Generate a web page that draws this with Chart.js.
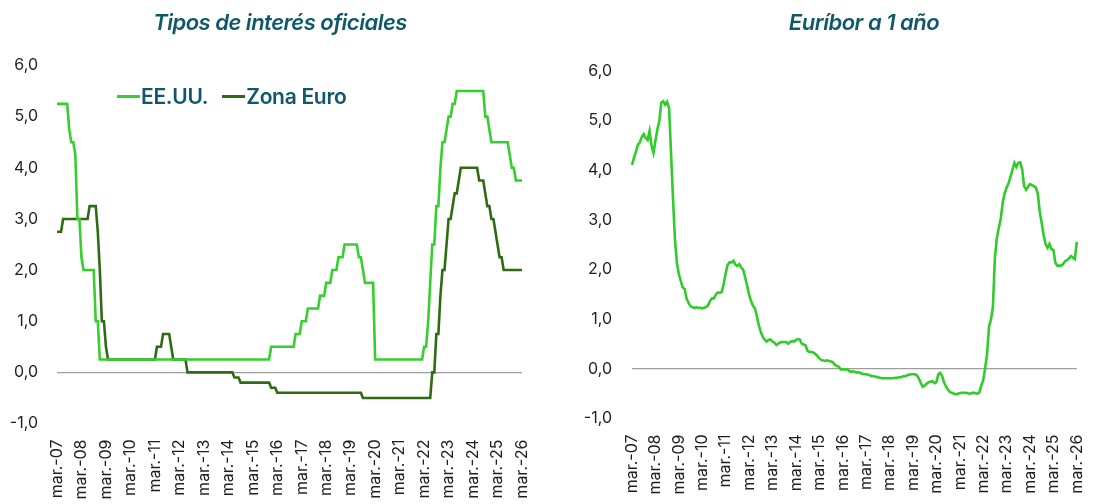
<!DOCTYPE html>
<html lang="es">
<head>
<meta charset="utf-8">
<script src="https://cdn.jsdelivr.net/npm/chart.js@4.4.1/dist/chart.umd.min.js"></script>
<style>
  body { margin: 0; width: 1104px; height: 504px; position: relative; background: #fff; overflow: hidden; font-family: Inter, "Noto Sans", sans-serif; }
  .panel { position: absolute; top: 0; height: 504px; }
  .title { position: absolute; top: 9px; transform: translateX(-50%); white-space: nowrap;
           font: italic 600 22px Inter, sans-serif; letter-spacing: -0.5px; color: #0e5868; }
  .legend { position: absolute; left: 117px; top: 84px; font: 600 21px Inter, sans-serif; color: #0e5868; white-space: nowrap; letter-spacing: -0.3px; }
  .legend .sw { display: inline-block; width: 23px; height: 3px; vertical-align: middle; margin-right: 1px; position: relative; top: -2px; }
  .legend .gap { display: inline-block; width: 14px; }
</style>
</head>
<body>
<div class="panel" style="left:0;width:560px"><canvas id="rates"></canvas></div>
<div class="panel" style="left:560px;width:544px"><canvas id="euribor"></canvas></div>
<div class="title" style="left:280px">Tipos de interés oficiales</div>
<div class="title" style="left:864px">Euríbor a 1 año</div>
<div class="legend"><span class="sw" style="background:#36cf2e"></span>EE.UU.<span class="gap"></span><span class="sw" style="background:#2f6b12"></span>Zona Euro</div>
<script>
// monthly, mar-07 .. mar-26 (one row per year, mar..feb)
const monthNames = ['mar.', 'abr.', 'may.', 'jun.', 'jul.', 'ago.', 'sep.', 'oct.', 'nov.', 'dic.', 'ene.', 'feb.'];
const yearTicks = ['mar.-07', 'mar.-08', 'mar.-09', 'mar.-10', 'mar.-11', 'mar.-12', 'mar.-13', 'mar.-14', 'mar.-15', 'mar.-16',
  'mar.-17', 'mar.-18', 'mar.-19', 'mar.-20', 'mar.-21', 'mar.-22', 'mar.-23', 'mar.-24', 'mar.-25', 'mar.-26'];

const eeuu = [
  5.25, 5.25, 5.25, 5.25, 5.25, 5.25, 4.75, 4.5, 4.5, 4.25, 3.0, 3.0,
  2.25, 2.0, 2.0, 2.0, 2.0, 2.0, 2.0, 1.0, 1.0, 0.25, 0.25, 0.25,
  0.25, 0.25, 0.25, 0.25, 0.25, 0.25, 0.25, 0.25, 0.25, 0.25, 0.25, 0.25,
  0.25, 0.25, 0.25, 0.25, 0.25, 0.25, 0.25, 0.25, 0.25, 0.25, 0.25, 0.25,
  0.25, 0.25, 0.25, 0.25, 0.25, 0.25, 0.25, 0.25, 0.25, 0.25, 0.25, 0.25,
  0.25, 0.25, 0.25, 0.25, 0.25, 0.25, 0.25, 0.25, 0.25, 0.25, 0.25, 0.25,
  0.25, 0.25, 0.25, 0.25, 0.25, 0.25, 0.25, 0.25, 0.25, 0.25, 0.25, 0.25,
  0.25, 0.25, 0.25, 0.25, 0.25, 0.25, 0.25, 0.25, 0.25, 0.25, 0.25, 0.25,
  0.25, 0.25, 0.25, 0.25, 0.25, 0.25, 0.25, 0.25, 0.25, 0.5, 0.5, 0.5,
  0.5, 0.5, 0.5, 0.5, 0.5, 0.5, 0.5, 0.5, 0.5, 0.75, 0.75, 0.75,
  1.0, 1.0, 1.0, 1.25, 1.25, 1.25, 1.25, 1.25, 1.25, 1.5, 1.5, 1.5,
  1.75, 1.75, 1.75, 2.0, 2.0, 2.0, 2.25, 2.25, 2.25, 2.5, 2.5, 2.5,
  2.5, 2.5, 2.5, 2.5, 2.25, 2.25, 2.0, 1.75, 1.75, 1.75, 1.75, 1.75,
  0.25, 0.25, 0.25, 0.25, 0.25, 0.25, 0.25, 0.25, 0.25, 0.25, 0.25, 0.25,
  0.25, 0.25, 0.25, 0.25, 0.25, 0.25, 0.25, 0.25, 0.25, 0.25, 0.25, 0.25,
  0.5, 0.5, 1.0, 1.75, 2.5, 2.5, 3.25, 3.25, 4.0, 4.5, 4.5, 4.75,
  5.0, 5.0, 5.25, 5.25, 5.5, 5.5, 5.5, 5.5, 5.5, 5.5, 5.5, 5.5,
  5.5, 5.5, 5.5, 5.5, 5.5, 5.5, 5.0, 5.0, 4.75, 4.5, 4.5, 4.5,
  4.5, 4.5, 4.5, 4.5, 4.5, 4.5, 4.25, 4.0, 4.0, 3.75, 3.75, 3.75,
  3.75
];

const zonaEuro = [
  2.75, 2.75, 2.75, 3.0, 3.0, 3.0, 3.0, 3.0, 3.0, 3.0, 3.0, 3.0,
  3.0, 3.0, 3.0, 3.0, 3.25, 3.25, 3.25, 3.25, 2.75, 2.0, 1.0, 1.0,
  0.5, 0.25, 0.25, 0.25, 0.25, 0.25, 0.25, 0.25, 0.25, 0.25, 0.25, 0.25,
  0.25, 0.25, 0.25, 0.25, 0.25, 0.25, 0.25, 0.25, 0.25, 0.25, 0.25, 0.25,
  0.25, 0.5, 0.5, 0.5, 0.75, 0.75, 0.75, 0.75, 0.5, 0.25, 0.25, 0.25,
  0.25, 0.25, 0.25, 0.25, 0, 0, 0, 0, 0, 0, 0, 0,
  0, 0, 0, 0, 0, 0, 0, 0, 0, 0, 0, 0,
  0, 0, 0, -0.1, -0.1, -0.1, -0.2, -0.2, -0.2, -0.2, -0.2, -0.2,
  -0.2, -0.2, -0.2, -0.2, -0.2, -0.2, -0.2, -0.2, -0.2, -0.3, -0.3, -0.3,
  -0.4, -0.4, -0.4, -0.4, -0.4, -0.4, -0.4, -0.4, -0.4, -0.4, -0.4, -0.4,
  -0.4, -0.4, -0.4, -0.4, -0.4, -0.4, -0.4, -0.4, -0.4, -0.4, -0.4, -0.4,
  -0.4, -0.4, -0.4, -0.4, -0.4, -0.4, -0.4, -0.4, -0.4, -0.4, -0.4, -0.4,
  -0.4, -0.4, -0.4, -0.4, -0.4, -0.4, -0.5, -0.5, -0.5, -0.5, -0.5, -0.5,
  -0.5, -0.5, -0.5, -0.5, -0.5, -0.5, -0.5, -0.5, -0.5, -0.5, -0.5, -0.5,
  -0.5, -0.5, -0.5, -0.5, -0.5, -0.5, -0.5, -0.5, -0.5, -0.5, -0.5, -0.5,
  -0.5, -0.5, -0.5, -0.5, 0, 0, 0.75, 0.75, 1.5, 2.0, 2.0, 2.5,
  3.0, 3.0, 3.25, 3.5, 3.5, 3.75, 4.0, 4.0, 4.0, 4.0, 4.0, 4.0,
  4.0, 4.0, 4.0, 3.75, 3.75, 3.75, 3.5, 3.25, 3.25, 3.0, 3.0, 2.75,
  2.5, 2.25, 2.25, 2.0, 2.0, 2.0, 2.0, 2.0, 2.0, 2.0, 2.0, 2.0,
  2.0
];

const euribor = [
  4.11, 4.25, 4.37, 4.51, 4.56, 4.67, 4.73, 4.65, 4.61, 4.79, 4.50, 4.35,
  4.59, 4.82, 4.99, 5.36, 5.39, 5.32, 5.38, 5.25, 4.35, 3.45, 2.62, 2.14,
  1.91, 1.77, 1.64, 1.61, 1.41, 1.33, 1.26, 1.24, 1.23, 1.24, 1.23, 1.23,
  1.22, 1.23, 1.25, 1.28, 1.37, 1.42, 1.42, 1.50, 1.54, 1.53, 1.55, 1.71,
  1.92, 2.09, 2.15, 2.14, 2.18, 2.10, 2.07, 2.11, 2.04, 2.00, 1.84, 1.68,
  1.50, 1.37, 1.27, 1.22, 1.06, 0.88, 0.74, 0.65, 0.59, 0.55, 0.58, 0.59,
  0.55, 0.53, 0.48, 0.51, 0.53, 0.54, 0.54, 0.54, 0.51, 0.54, 0.56, 0.55,
  0.58, 0.60, 0.59, 0.51, 0.49, 0.47, 0.36, 0.34, 0.34, 0.33, 0.30, 0.26,
  0.21, 0.18, 0.17, 0.16, 0.17, 0.16, 0.15, 0.13, 0.08, 0.06, 0.04, -0.01,
  -0.01, -0.01, -0.01, -0.03, -0.06, -0.05, -0.06, -0.07, -0.07, -0.08, -0.10, -0.11,
  -0.11, -0.12, -0.13, -0.15, -0.15, -0.16, -0.17, -0.18, -0.19, -0.19, -0.19, -0.19,
  -0.19, -0.19, -0.19, -0.18, -0.18, -0.17, -0.17, -0.15, -0.15, -0.13, -0.12, -0.11,
  -0.11, -0.11, -0.13, -0.19, -0.28, -0.36, -0.34, -0.30, -0.27, -0.26, -0.25, -0.29,
  -0.27, -0.11, -0.08, -0.15, -0.28, -0.36, -0.42, -0.47, -0.48, -0.50, -0.51, -0.50,
  -0.49, -0.48, -0.48, -0.48, -0.49, -0.50, -0.49, -0.48, -0.49, -0.50, -0.48, -0.34,
  -0.24, 0.01, 0.29, 0.85, 0.99, 1.25, 2.23, 2.63, 2.83, 3.02, 3.34, 3.53,
  3.65, 3.74, 3.86, 4.01, 4.15, 4.07, 4.15, 4.16, 4.02, 3.68, 3.61, 3.67,
  3.72, 3.70, 3.68, 3.65, 3.53, 3.17, 2.94, 2.69, 2.51, 2.44, 2.52, 2.41,
  2.40, 2.14, 2.08, 2.08, 2.08, 2.11, 2.17, 2.19, 2.22, 2.27, 2.24, 2.21,
  2.56
];

const months = [];
for (let i = 0; i < eeuu.length; i++) {
  const yr = 7 + Math.floor((i + 2) / 12);
  months.push(`${monthNames[i % 12]}-${String(yr).padStart(2, '0')}`);
}

const tickColor = '#1f1f1f';
const tickFont = { family: 'Inter', size: 16 };

// pad.top = y of the 6,0 line, plotH = height down to the -1,0 line
const makeOptions = (yWidth, yPad, pad) => ({
  responsive: true,
  maintainAspectRatio: false,
  animation: false,
  layout: { padding: { top: pad.top, right: pad.right, bottom: 0, left: 0 } },
  plugins: { legend: { display: false }, title: { display: false }, tooltip: { enabled: false } },
  elements: { point: { radius: 0 }, line: { borderWidth: 2.6, tension: 0 } },
  scales: {
    x: {
      type: 'category',
      grid: { display: false },
      border: { display: false },
      afterBuildTicks: (s) => { s.ticks = s.ticks.filter(t => t.value % 12 === 0); },
      afterFit: (s) => { s.height = 504 - pad.top - pad.plotH; },
      ticks: {
        autoSkip: false, minRotation: 90, maxRotation: 90, padding: 8,
        color: tickColor, font: tickFont,
        callback: function (v) { return yearTicks[v / 12]; }
      }
    },
    y: {
      min: -1, max: 6,
      afterFit: (s) => { s.width = yWidth; },
      border: { display: false },
      grid: { drawTicks: false, lineWidth: 1.3, color: (c) => c.tick && c.tick.value === 0 ? '#9e9e9e' : 'rgba(0,0,0,0)' },
      ticks: {
        stepSize: 1, padding: yPad, color: tickColor, font: tickFont,
        callback: (v) => v.toFixed(1).replace('.', ',')
      }
    }
  }
});

new Chart(document.getElementById('rates'), {
  type: 'line',
  data: {
    labels: months,
    datasets: [
      { label: 'EE.UU.', data: eeuu, borderColor: '#36cf2e' },
      { label: 'Zona Euro', data: zonaEuro, borderColor: '#2f6b12' }
    ]
  },
  options: makeOptions(57, 19, { top: 65.5, right: 38, plotH: 358 })
});

new Chart(document.getElementById('euribor'), {
  type: 'line',
  data: {
    labels: months,
    datasets: [
      { label: 'Euríbor a 1 año', data: euribor, borderColor: '#2fcc2a' }
    ]
  },
  options: makeOptions(72, 20, { top: 71, right: 10, plotH: 347.5 })
});
</script>
</body>
</html>
